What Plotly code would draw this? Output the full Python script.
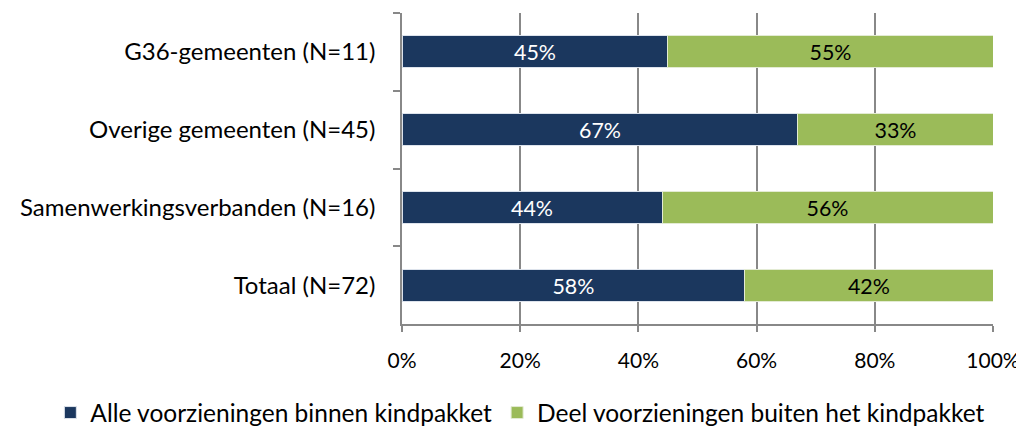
import plotly.graph_objects as go

categories = ["G36-gemeenten (N=11)", "Overige gemeenten (N=45)",
              "Samenwerkingsverbanden (N=16)", "Totaal (N=72)"]
binnen = [45, 67, 44, 58]
buiten = [55, 33, 56, 42]
series_names = ["Alle voorzieningen binnen kindpakket",
                "Deel voorzieningen buiten het kindpakket"]
tick_vals = [0, 20, 40, 60, 80, 100]
tick_text = ["0%", "20%", "40%", "60%", "80%", "100%"]

FONT = "Lato"
fig = go.Figure()
fig.add_trace(go.Bar(
    y=categories, x=binnen, orientation="h", name=series_names[0],
    marker=dict(color="#1B375E", line=dict(color="#DDE3EC", width=1)),
    text=[f"{v}%" for v in binnen], textposition="inside",
    insidetextanchor="middle", textfont=dict(color="white", size=24, family=FONT),
    width=0.41, hoverinfo="skip"))
fig.add_trace(go.Bar(
    y=categories, x=buiten, orientation="h", name=series_names[1],
    marker=dict(color="#9BBB59", line=dict(color="#E3EBD3", width=1)),
    text=[f"{v}%" for v in buiten], textposition="inside",
    insidetextanchor="middle", textfont=dict(color="black", size=24, family=FONT),
    width=0.41, hoverinfo="skip"))

fig.update_layout(
    barmode="stack", width=1016, height=432,
    margin=dict(l=394, r=31, t=5, b=103),
    paper_bgcolor="white", plot_bgcolor="white",
    font=dict(family=FONT, size=23, color="black"),
    legend=dict(orientation="h", x=-0.595, xanchor="left",
                y=-0.285, yanchor="middle",
                font=dict(size=24.5, family=FONT), traceorder="normal",
                itemwidth=30),
)
fig.update_xaxes(range=[0, 100], tickmode="array", tickvals=tick_vals,
                 ticktext=tick_text,
                 showgrid=True, gridcolor="#888888", gridwidth=1.5,
                 showline=True, linecolor="#888888", linewidth=1.5,
                 ticks="outside", ticklen=6, tickcolor="#888888", tickwidth=1.5,
                 ticklabelstandoff=11, zeroline=False,
                 tickfont=dict(size=21, family=FONT))
fig.update_yaxes(categoryorder="array", categoryarray=categories,
                 autorange="reversed", showgrid=False,
                 showline=True, linecolor="#888888", linewidth=1.5,
                 ticks="outside", ticklen=7, tickcolor="#888888", tickwidth=1.5,
                 tickson="boundaries", ticklabelstandoff=20,
                 tickfont=dict(size=24, family=FONT))

fig.write_html("out.html")
